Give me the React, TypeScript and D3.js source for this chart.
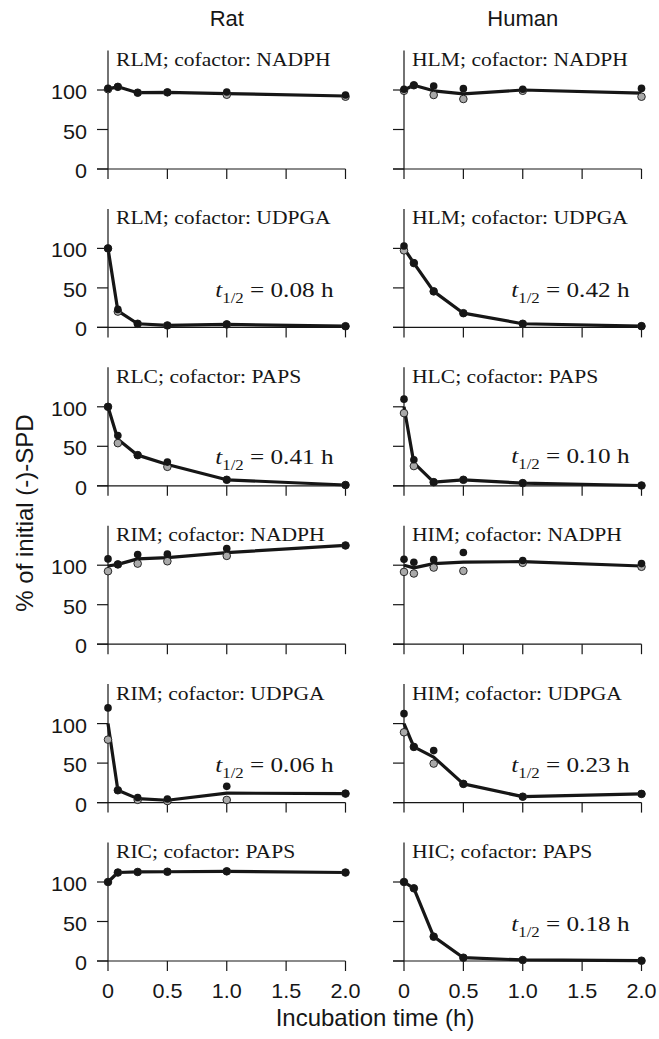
import React from "react";
import * as d3 from "d3";

// incubation time points (h)
const times = [0, 0.083, 0.25, 0.5, 1, 2];
const speciesLabels = ["Rat", "Human"];
const panelTitles = [
  "RLM; cofactor: NADPH",
  "HLM; cofactor: NADPH",
  "RLM; cofactor: UDPGA",
  "HLM; cofactor: UDPGA",
  "RLC; cofactor: PAPS",
  "HLC; cofactor: PAPS",
  "RIM; cofactor: NADPH",
  "HIM; cofactor: NADPH",
  "RIM; cofactor: UDPGA",
  "HIM; cofactor: UDPGA",
  "RIC; cofactor: PAPS",
  "HIC; cofactor: PAPS",
];
const halfLives = [null, null, "0.08", "0.42", "0.41", "0.10", null, null, "0.06", "0.23", null, "0.18"];

// mean line (% of initial)
const meanValues = [
  [101.5, 104, 96.6, 97, 95.5, 92.4],
  [100, 106, 99, 95, 100, 96],
  [100, 21, 4.6, 2.5, 3.8, 1.5],
  [100, 81.4, 45.6, 18, 4.6, 1.6],
  [100, 59, 38.8, 27, 7.6, 1],
  [100, 29, 4.6, 7.6, 3.4, 0.4],
  [99, 101, 108, 109.5, 116, 125],
  [100, 96.6, 102, 104, 104.5, 99],
  [100, 15.6, 5, 3, 12, 11.4],
  [100, 70.5, 57.6, 23.7, 7.5, 11],
  [100, 112, 112.7, 113, 113.5, 112],
  [100, 92, 30.8, 4.2, 1.3, 0.4],
];
// replicate 1 (black dots)
const blackValues = [
  [102, 104, 96.6, 97, 97.5, 93.6],
  [101, 106, 105, 101.7, 101, 102],
  [100, 22.8, 4.6, 2.5, 3.8, 1.5],
  [103, 81.4, 45.6, 18, 4.6, 1.6],
  [100, 63.7, 38.8, 30, 7.6, 1],
  [109.7, 33, 4.6, 7.6, 3.4, 0.4],
  [108, 101, 113.5, 114, 121, 125],
  [107.6, 103.8, 107, 116, 106, 102],
  [119.9, 15.6, 6.5, 4.6, 20.6, 11.4],
  [112.6, 70.5, 65.8, 23.7, 7.5, 11],
  [100, 112, 112.7, 113, 113.5, 112],
  [100, 92, 30.8, 4.2, 1.3, 0.4],
];
// replicate 2 (grey dots)
const grayValues = [
  [101, 104, 96.6, 97, 94, 91.5],
  [99, 106, 93.7, 88.6, 99, 91.5],
  [100, 20, 4.6, 2.5, 3.8, 1.5],
  [97.5, 81.4, 45.6, 18, 4.6, 1.6],
  [100, 54, 38.8, 24, 7.6, 1],
  [92, 25, 4.6, 7.6, 3.4, 0.4],
  [92.4, 101, 102, 105, 111.8, 125],
  [91.5, 89.5, 97, 92.8, 103, 98],
  [79.7, 15.6, 3.5, 2, 3.4, 11.4],
  [89, 70.5, 49.4, 23.7, 7.5, 11],
  [100, 112, 112.7, 113, 113.5, 112],
  [100, 92, 30.8, 4.2, 1.3, 0.4],
];
const yTicks = [0, 50, 100];
const xTicks = [0, 0.5, 1, 1.5, 2];
const xTickLabels = ["0", "0.5", "1.0", "1.5", "2.0"];

// layout
const W = 659;
const H = 1039;
const colLeft = [108, 404];
const plotW = 237.5;
const firstZero = 169;
const rowStep = 158.4;
const plotH = 118.5;
const halfLifeLift = [0, 0, 30, 30, 22, 23, 0, 0, 31, 31, 0, 30];
const sans = "'Liberation Sans', Arial, Helvetica, sans-serif";
const serif = "'Liberation Serif', 'Times New Roman', Times, serif";
const ink = "#161616";

function SText({ x, y, sx = 1, anchor = "start", size, family, children }: any) {
  return (
    <g transform={`translate(${x},${y}) scale(${sx},1)`}>
      <text textAnchor={anchor} fontSize={size} fontFamily={family} fill={ink}>
        {children}
      </text>
    </g>
  );
}

function Panel({ idx }: { idx: number }) {
  const col = idx % 2;
  const row = Math.floor(idx / 2);
  const x0 = colLeft[col];
  const y0 = firstZero + row * rowStep;
  const x = d3.scaleLinear().domain([0, 2]).range([x0, x0 + plotW]);
  const y = d3.scaleLinear().domain([0, 150]).range([y0, y0 - plotH]);
  const line = d3
    .line<number>()
    .x((d, i) => x(times[i]))
    .y((d) => y(d));
  const hl = halfLives[idx];
  return (
    <g>
      {/* axes */}
      <line x1={x0} x2={x0} y1={y(0)} y2={y(150)} stroke={ink} strokeWidth={1.2} />
      <line x1={x0 - 11} x2={x(2)} y1={y0} y2={y0} stroke={ink} strokeWidth={1.2} />
      {yTicks.map((t) => (
        <line key={t} x1={x0 - 11} x2={x0} y1={y(t)} y2={y(t)} stroke={ink} strokeWidth={1.2} />
      ))}
      {xTicks.map((t) => (
        <line key={t} x1={x(t)} x2={x(t)} y1={y0} y2={y0 + 10} stroke={ink} strokeWidth={1.2} />
      ))}
      {col === 0 &&
        yTicks.map((t) => (
          <SText key={t} x={x0 - 21} y={y(t) + 9} sx={1.08} anchor="end" size={20} family={sans}>
            {t}
          </SText>
        ))}
      {row === 5 &&
        xTicks.map((t, i) => (
          <SText key={t} x={x(t)} y={y0 + 37} sx={1.08} anchor="middle" size={20} family={sans}>
            {xTickLabels[i]}
          </SText>
        ))}

      {/* data */}
      <path d={line(meanValues[idx]) || ""} fill="none" stroke={ink} strokeWidth={3.2} strokeLinejoin="round" />
      {grayValues[idx].map((v, i) => (
        <circle key={"g" + i} cx={x(times[i])} cy={y(v)} r={3.8} fill="#a9a9a9" stroke={ink} strokeWidth={0.9} />
      ))}
      {blackValues[idx].map((v, i) => (
        <circle key={"b" + i} cx={x(times[i])} cy={y(v)} r={3.8} fill={ink} />
      ))}

      {/* labels */}
      <SText x={x0 + 8} y={y0 - 103} sx={1.2} size={18} family={serif}>
        {panelTitles[idx]}
      </SText>
      {hl && (
        <g transform={`translate(${x(2) - 12},${y0 - halfLifeLift[idx]}) scale(1.2,1)`}>
          <text textAnchor="end" fontFamily={serif} fontSize={21} fill={ink}>
            <tspan fontStyle="italic">t</tspan>
            <tspan fontSize={14} dy={6}>1/2</tspan>
            <tspan dy={-6}>{` = ${hl} h`}</tspan>
          </text>
        </g>
      )}
    </g>
  );
}

export default function App() {
  return (
    <svg
      width={W}
      height={H}
      style={{ position: "absolute", left: 0, top: 0, background: "#fff" }}
    >
      <rect width={W} height={H} fill="#fff" />
      {speciesLabels.map((s, i) => (
        <SText key={s} x={colLeft[i] + plotW / 2} y={26} anchor="middle" size={22} family={sans}>
          {s}
        </SText>
      ))}
      {panelTitles.map((_, i) => (
        <Panel key={i} idx={i} />
      ))}
      <g transform="translate(33,513) rotate(-90)">
        <text textAnchor="middle" fontFamily={sans} fontSize={24} fill={ink}>
          % of initial (-)-SPD
        </text>
      </g>
      <SText x={375} y={1026} anchor="middle" size={24} family={sans}>
        Incubation time (h)
      </SText>
    </svg>
  );
}
